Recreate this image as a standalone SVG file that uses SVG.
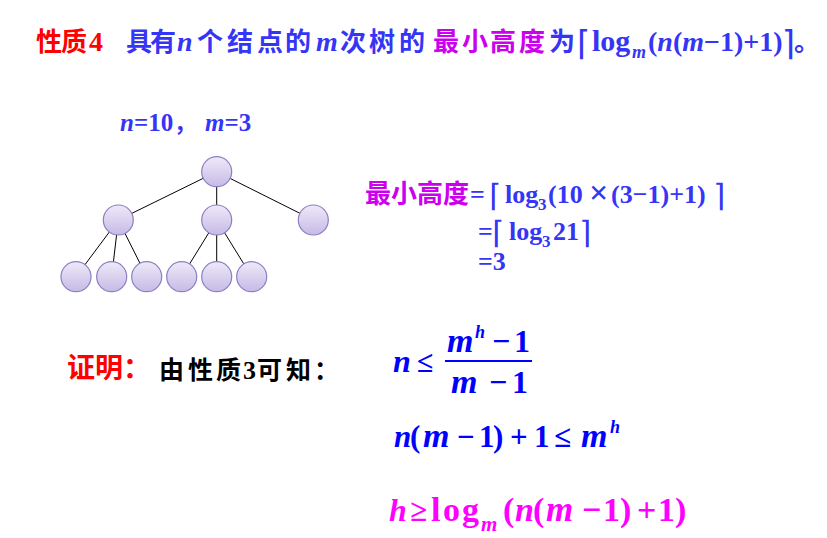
<svg xmlns="http://www.w3.org/2000/svg" width="827" height="538" viewBox="0 0 827 538">
<defs>
<linearGradient id="nodeFill" x1="0" y1="0" x2="0" y2="1">
<stop offset="0" stop-color="#EEEAF8"/>
<stop offset="1" stop-color="#C6BAE6"/>
</linearGradient>
<style>
.cjk{font-family:"Noto Sans CJK SC","Noto Sans",sans-serif;font-weight:bold;}
.ser{font-family:"Liberation Serif","Times New Roman",serif;font-weight:bold;}
.it{font-style:italic;}
.br{font-family:"DejaVu Sans",sans-serif;font-weight:normal;font-style:normal;}
.red{fill:#FF0000;}
.blue{fill:#3535F5;}
.dblue{fill:#0000FF;}
.mag{fill:#CC00EE;}
.pink{fill:#FF00FF;}
.node{fill:url(#nodeFill);stroke:#8E7EC2;stroke-width:1.2;}
.edge{stroke:#000;stroke-width:1;fill:none;}
</style>
</defs>
<rect width="827" height="538" fill="#FFFFFF"/>

<!-- Title -->
<g id="title">
<text class="cjk red" font-size="26" x="36 61" y="51">性质</text>
<text class="ser red" font-size="28" x="89" y="51">4</text>
<text class="cjk blue" font-size="26" x="126 150" y="51">具有</text>
<text class="ser it blue" font-size="28" x="177" y="51">n</text>
<text class="cjk blue" font-size="26" x="197 227 257 285" y="51">个结点的</text>
<text class="ser it blue" font-size="28" x="316" y="51">m</text>
<text class="cjk blue" font-size="26" x="340 369 399" y="51">次树的</text>
<text class="cjk mag" font-size="26" x="433 462 490 519" y="51">最小高度</text>
<text class="cjk blue" font-size="26" x="549" y="51">为</text>
<text class="br blue" font-size="34" x="577" y="55">⌈</text>
<text class="ser blue" font-size="30" x="592" y="51">log</text>
<text class="ser it blue" font-size="18" x="632" y="58">m</text>
<text class="ser blue" font-size="28" x="648" y="51">(<tspan class="it">n</tspan>(<tspan class="it">m</tspan>−1)+1)</text>
<text class="br blue" font-size="34" x="782" y="55">⌉</text>
<text class="cjk blue" font-size="26" x="794" y="51">。</text>
</g>

<!-- n=10, m=3 -->
<g id="params">
<text class="ser blue" font-size="25" x="120" y="131"><tspan class="it">n</tspan>=10</text>
<text class="cjk blue" font-size="22" x="174" y="131">，</text>
<text class="ser blue" font-size="25" x="205" y="131"><tspan class="it">m</tspan>=3</text>
</g>

<!-- Tree -->
<g id="connectors">
<line class="edge" x1="216.7" y1="171.7" x2="118.3" y2="220"/>
<line class="edge" x1="216.7" y1="171.7" x2="216.7" y2="220"/>
<line class="edge" x1="216.7" y1="171.7" x2="313.3" y2="220"/>
<line class="edge" x1="118.3" y1="220" x2="76" y2="276.7"/>
<line class="edge" x1="118.3" y1="220" x2="111.7" y2="276.7"/>
<line class="edge" x1="118.3" y1="220" x2="146.7" y2="276.7"/>
<line class="edge" x1="216.7" y1="220" x2="181.7" y2="276.7"/>
<line class="edge" x1="216.7" y1="220" x2="216.7" y2="276.7"/>
<line class="edge" x1="216.7" y1="220" x2="251.7" y2="276.7"/>
</g>
<g id="root"><circle class="node" cx="216.7" cy="171.7" r="15"/></g>
<g id="n1"><circle class="node" cx="118.3" cy="220" r="15"/></g>
<g id="n2"><circle class="node" cx="216.7" cy="220" r="15"/></g>
<g id="n3"><circle class="node" cx="313.3" cy="220" r="15"/></g>
<g id="n4"><circle class="node" cx="76" cy="276.7" r="15"/></g>
<g id="n5"><circle class="node" cx="111.7" cy="276.7" r="15"/></g>
<g id="n6"><circle class="node" cx="146.7" cy="276.7" r="15"/></g>
<g id="n7"><circle class="node" cx="181.7" cy="276.7" r="15"/></g>
<g id="n8"><circle class="node" cx="216.7" cy="276.7" r="15"/></g>
<g id="n9"><circle class="node" cx="251.7" cy="276.7" r="15"/></g>

<!-- Example computation -->
<g id="example">
<text class="cjk mag" font-size="26" x="365 391 417 443" y="203">最小高度</text>
<text class="ser blue" font-size="26" x="470" y="203">=</text>
<text class="br blue" font-size="31" x="489" y="206">⌈</text>
<text class="ser blue" font-size="26" x="505" y="203">log</text>
<text class="ser blue" font-size="17" x="538" y="210">3</text>
<text class="ser blue" font-size="26" x="548" y="203">(10</text>
<text class="ser blue" font-size="34" x="589" y="204">×</text>
<text class="ser blue" font-size="26" x="611" y="203">(3−1)+1)</text>
<text class="br blue" font-size="31" x="713" y="206">⌉</text>

<text class="ser blue" font-size="26" x="478" y="240">=</text>
<text class="br blue" font-size="31" x="492" y="243">⌈</text>
<text class="ser blue" font-size="26" x="509" y="240">log</text>
<text class="ser blue" font-size="17" x="542" y="247">3</text>
<text class="ser blue" font-size="26" x="553" y="240">21</text>
<text class="br blue" font-size="31" x="579" y="243">⌉</text>

<text class="ser blue" font-size="26" x="478" y="270">=3</text>
</g>

<!-- Proof -->
<g id="proof">
<text class="cjk red" font-size="28" x="67" y="378">证明：</text>
<text class="cjk" font-size="25" fill="#000000" x="159 188 216" y="379">由性质</text>
<text class="ser" font-size="26" fill="#000000" x="243" y="379">3</text>
<text class="cjk" font-size="25" fill="#000000" x="257 286 314" y="379">可知：</text>
</g>

<!-- Formula 1 -->
<g id="formula1">
<text class="ser dblue" font-size="32" y="372"><tspan class="it" x="393">n</tspan><tspan x="417" font-size="30">≤</tspan></text>
<text class="ser dblue" font-size="32" y="352"><tspan class="it" x="447" font-size="34">m</tspan><tspan x="492">−</tspan><tspan x="514">1</tspan></text>
<text class="ser it dblue" font-size="18" x="475" y="338">h</text>
<line x1="445" y1="361" x2="532" y2="361" stroke="#0000FF" stroke-width="2"/>
<text class="ser dblue" font-size="32" y="393"><tspan class="it" x="451" font-size="34">m</tspan><tspan x="489">−</tspan><tspan x="512">1</tspan></text>
</g>

<!-- Formula 2 -->
<g id="formula2">
<text class="ser dblue" font-size="31" y="447"><tspan class="it" x="394">n</tspan><tspan x="410">(</tspan><tspan class="it" x="423" font-size="34">m</tspan><tspan x="457">−</tspan><tspan x="479">1</tspan><tspan x="493">)</tspan><tspan x="510">+</tspan><tspan x="534">1</tspan><tspan x="554">≤</tspan><tspan class="it" x="581" font-size="34">m</tspan></text>
<text class="ser it dblue" font-size="18" x="610" y="433">h</text>
</g>

<!-- Formula 3 -->
<g id="formula3">
<text class="ser pink" font-size="34" y="521"><tspan class="it" x="389" font-size="32">h</tspan><tspan x="410" font-size="31">≥</tspan><tspan x="431 443 462">log</tspan></text>
<text class="ser it pink" font-size="21" x="481" y="531">m</text>
<text class="ser pink" font-size="34" y="521"><tspan x="503">(</tspan><tspan class="it" x="515">n</tspan><tspan x="533">(</tspan><tspan class="it" x="546" font-size="35">m</tspan><tspan x="582">−</tspan><tspan x="603">1</tspan><tspan x="620">)</tspan><tspan x="637">+</tspan><tspan x="658">1</tspan><tspan x="675">)</tspan></text>
</g>
</svg>
